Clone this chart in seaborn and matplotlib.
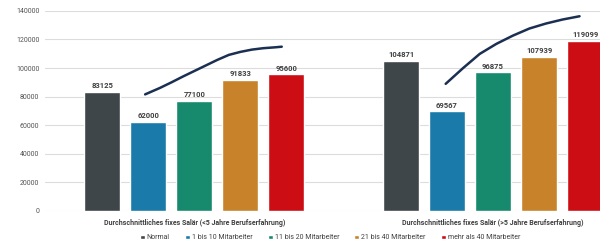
import pandas as pd
import matplotlib
matplotlib.use("Agg")
import matplotlib.pyplot as plt
import seaborn as sns

sns.set_theme(style="white")
plt.rcParams["font.family"] = ["Roboto", "DejaVu Sans"]

# data
groups = ["Durchschnittliches fixes Salär (<5 Jahre Berufserfahrung)",
          "Durchschnittliches fixes Salär (>5 Jahre Berufserfahrung)"]
categories = ["Normal", "1 bis 10 Mitarbeiter", "11 bis 20 Mitarbeiter",
              "21 bis 40 Mitarbeiter", "mehr als 40 Mitarbeiter"]
values_lt5 = [83125, 62000, 77100, 91833, 95600]
values_gt5 = [104871, 69567, 96875, 107939, 119099]
colors = ["#3F4649", "#1A7BAA", "#178A6D", "#C8832A", "#CC0E14"]

# curve drawn over the bars (position in bar slots, value)
curve_slots_lt5 = [0.93, 1.25, 1.5, 1.75, 2, 2.25, 2.5, 2.75, 3, 3.25, 3.5, 3.75, 3.9]
curve_lt5 = [81500, 86000, 89900, 94000, 97900, 101800, 105700, 109200,
             111300, 112900, 113900, 114500, 114950]
curve_slots_gt5 = [0.97, 1.35, 1.71, 2.07, 2.43, 2.79, 3.15, 3.51, 3.88]
curve_gt5 = [88900, 100000, 109900, 116900, 122700, 127700, 131200, 134000, 136300]

df = pd.DataFrame({
    "group": [g for g in groups for _ in categories],
    "category": categories * 2,
    "value": values_lt5 + values_gt5,
})

fig = plt.figure(figsize=(6, 2.44), dpi=100)
ax = fig.add_axes([0.075, 0.137, 0.925, 0.818])

bar_width = 0.77
gap = 0.22
sns.barplot(data=df, x="group", y="value", hue="category", order=groups,
            hue_order=categories, palette=colors, width=bar_width, gap=gap,
            saturation=1, ax=ax, legend=True)

for cont in ax.containers:
    ax.bar_label(cont, fmt="%d", fontsize=5.5, fontweight="bold",
                 color="#404040", padding=2)

slot = bar_width / len(categories)
for gi, (slots, curve) in enumerate([(curve_slots_lt5, curve_lt5),
                                     (curve_slots_gt5, curve_gt5)]):
    xs = [gi + (s - 2) * slot for s in slots]
    ax.plot(xs, curve, color="#1B2F52", lw=1.8, solid_capstyle="round",
            solid_joinstyle="round", zorder=5)

ax.set_ylim(0, 140000)
ax.set_xlim(-0.5, 1.358)
ax.set_yticks(range(0, 140001, 20000))
ax.yaxis.grid(True, color="#DCDCDC", lw=0.8)
ax.set_axisbelow(True)
for s in ax.spines.values():
    s.set_visible(False)
ax.tick_params(axis="y", labelsize=5, labelcolor="#555555", length=0, pad=4)
ax.tick_params(axis="x", labelsize=5, labelcolor="#404040", length=0, pad=6)
for lbl in ax.get_xticklabels():
    lbl.set_fontweight("bold")
ax.set_xlabel("")
ax.set_ylabel("")

handles, labels = ax.get_legend_handles_labels()
ax.legend_.remove()
fig.legend(handles, labels, loc="center", bbox_to_anchor=(0.55, 0.025), ncol=5,
           frameon=False, fontsize=5, handlelength=0.7, handleheight=0.7,
           handletextpad=0.3, columnspacing=2.2, labelcolor="#404040")

fig.savefig("out.png", dpi=100)
